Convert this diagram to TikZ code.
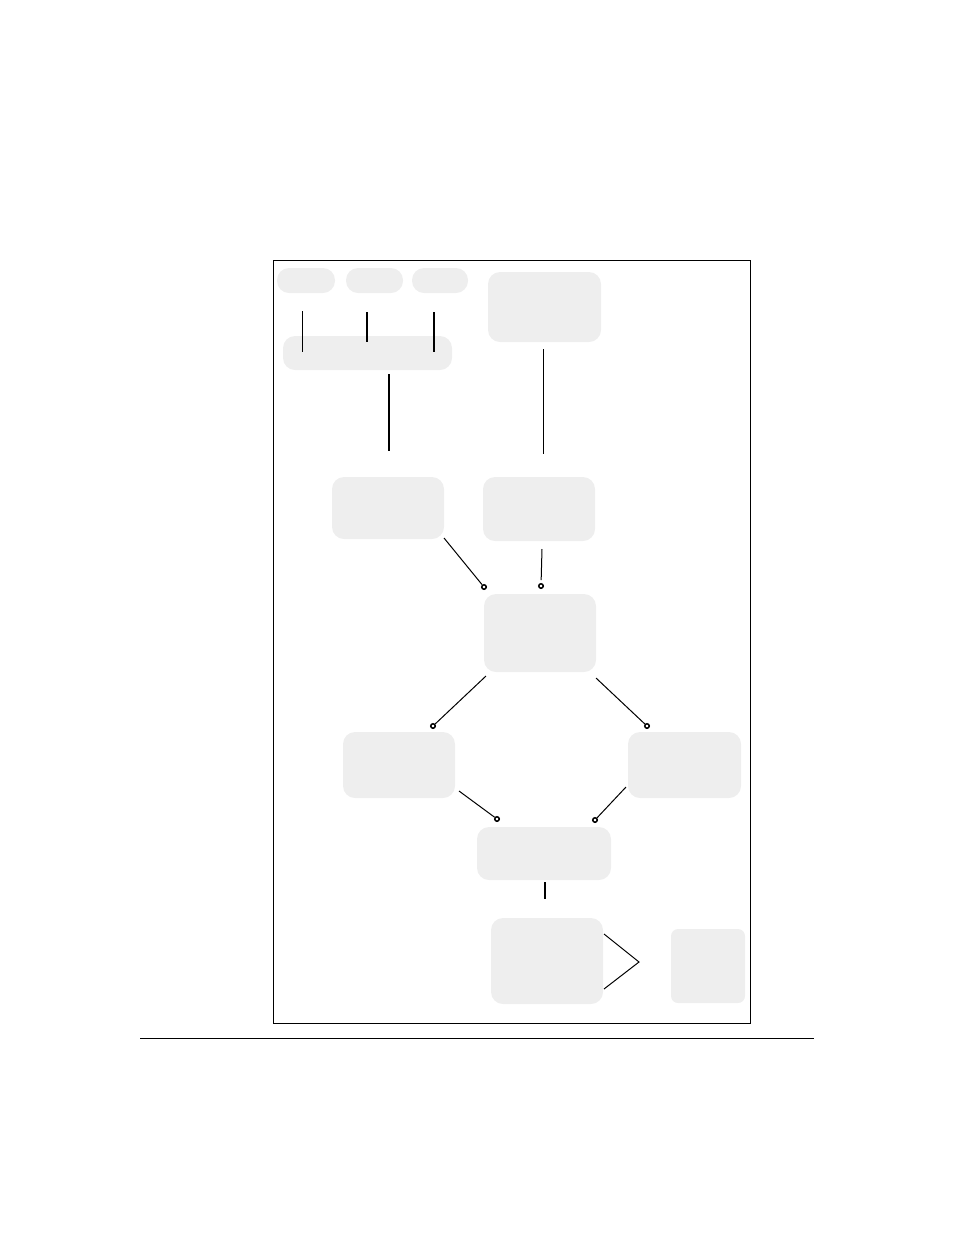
\documentclass[tikz,border=0pt]{standalone}
\definecolor{boxgray}{HTML}{EEEEEE}
\begin{document}
\begin{tikzpicture}[x=1pt,y=-1pt,
  box/.style={fill=boxgray, rounded corners=12pt, inner sep=0pt, outer sep=0pt},
  smallbox/.style={fill=boxgray, rounded corners=7pt, inner sep=0pt, outer sep=0pt},
  conn/.style={line width=1pt},
  thickconn/.style={line width=2pt},
  dot/.style={circle, draw, line width=1.5pt, fill=white, inner sep=0pt, minimum size=4.5pt}]
\useasboundingbox (0,0) rectangle (954,1235);
% frame
\node[draw, line width=1pt, inner sep=0pt, minimum width=477pt, minimum height=763pt] (frame) at (511.5,641.5) {};
\coordinate (ruleL) at (140,1038);
\coordinate (ruleR) at (814,1038);
\draw[conn] (ruleL) -- (ruleR);
% boxes
\node[box, minimum width=58pt, minimum height=25pt] (p1) at (306,280.5) {};
\node[box, minimum width=57pt, minimum height=25pt] (p2) at (374.5,280.5) {};
\node[box, minimum width=56pt, minimum height=25pt] (p3) at (440,280.5) {};
\node[box, minimum width=113pt, minimum height=70pt] (topR) at (544.5,307) {};
\node[box, minimum width=169pt, minimum height=34pt] (wide) at (367.5,353) {};
\node[box, minimum width=112pt, minimum height=62pt] (A) at (388,508) {};
\node[box, minimum width=112pt, minimum height=64pt] (B) at (539,509) {};
\node[box, minimum width=112pt, minimum height=78pt] (C) at (540,633) {};
\node[box, minimum width=112pt, minimum height=66pt] (D) at (399,765) {};
\node[box, minimum width=113pt, minimum height=66pt] (E) at (684.5,765) {};
\node[box, minimum width=134pt, minimum height=53pt] (F) at (544,853.5) {};
\node[box, minimum width=112pt, minimum height=86pt] (G) at (547,961) {};
\node[smallbox, minimum width=74pt, minimum height=74pt] (H) at (708,966) {};
% dots
\node[dot] (dA) at (484,587) {};
\node[dot] (dB) at (541,586) {};
\node[dot] (dCl) at (433,726) {};
\node[dot] (dCr) at (647,726) {};
\node[dot] (dDl) at (497,819) {};
\node[dot] (dEr) at (595,820) {};
% connector end points
\coordinate (p1a) at (302,311); \coordinate (p1b) at (302,352);
\coordinate (p2a) at (367,312); \coordinate (p2b) at (367,342);
\coordinate (p3a) at (434,312); \coordinate (p3b) at (434,352);
\coordinate (wa) at (389,374); \coordinate (wb) at (389,451);
\coordinate (ta) at (543,349); \coordinate (tb) at (543,454);
\coordinate (aa) at (444,538);
\coordinate (ba) at (542,549);
\coordinate (cl) at (486,676);
\coordinate (cr) at (596,678);
\coordinate (da) at (459,791);
\coordinate (ea) at (626,787);
\coordinate (fa) at (545,882); \coordinate (fb) at (545,899);
\coordinate (g1) at (604,934); \coordinate (gm) at (639,962); \coordinate (g2) at (604,989);
% connectors
\draw[conn] (p1a) -- (p1b);
\draw[thickconn] (p2a) -- (p2b);
\draw[thickconn] (p3a) -- (p3b);
\draw[thickconn] (wa) -- (wb);
\draw[conn] (ta) -- (tb);
\draw[conn] (aa) -- (dA);
\draw[conn, shorten >=3pt] (ba) -- (dB);
\draw[conn] (cl) -- (dCl);
\draw[conn] (cr) -- (dCr);
\draw[conn] (da) -- (dDl);
\draw[conn] (ea) -- (dEr);
\draw[thickconn] (fa) -- (fb);
\draw[conn] (g1) -- (gm) -- (g2);
\end{tikzpicture}
\end{document}
